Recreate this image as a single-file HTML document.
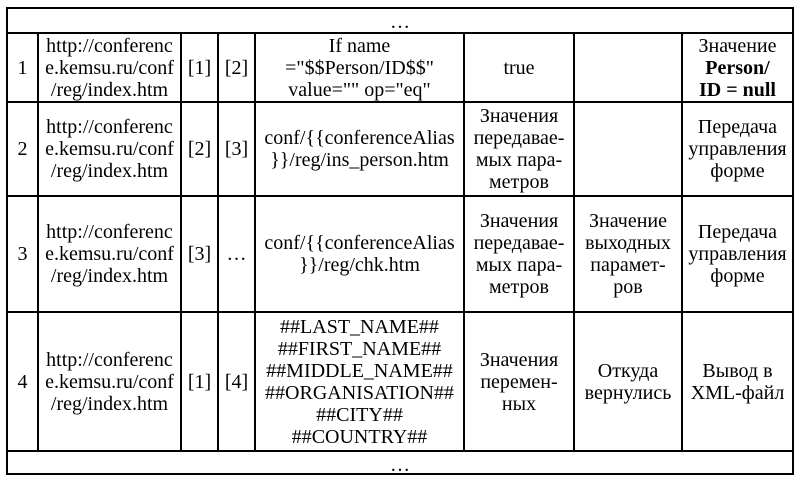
<!DOCTYPE html>
<html><head><meta charset="utf-8"><style>
html,body{margin:0;padding:0;background:#fff;width:803px;height:486px;overflow:hidden}
#t{position:relative;width:803px;height:486px;font-family:"Liberation Serif",serif;font-size:20px;color:#000}
.c{position:absolute;box-sizing:border-box;border:2px solid #000;display:flex;align-items:center;justify-content:center;text-align:center;line-height:22px;margin-left:-2px;margin-top:-2px;white-space:nowrap}
.top{align-items:flex-start;padding-top:2px}
</style></head><body>
<div id="t">
<script>
const xs=[8,39,182,219,256,465,575,683,794];
const ys=[9,34,103,197,313,452,475];
const rows=[
 ["1","http://conferenc<br>e.kemsu.ru/conf<br>/reg/index.htm","[1]","[2]","If name<br>=\"$$Person/ID$$\"<br>value=\"\" op=\"eq\"","true","","Значение<br><b>Person/<br>ID = null</b>"],
 ["2","http://conferenc<br>e.kemsu.ru/conf<br>/reg/index.htm","[2]","[3]","conf/{{conferenceAlias<br>}}/reg/ins_person.htm","Значения<br>передавае-<br>мых пара-<br>метров","","Передача<br>управления<br>форме"],
 ["3","http://conferenc<br>e.kemsu.ru/conf<br>/reg/index.htm","[3]","…","conf/{{conferenceAlias<br>}}/reg/chk.htm","Значения<br>передавае-<br>мых пара-<br>метров","Значение<br>выходных<br>парамет-<br>ров","Передача<br>управления<br>форме"],
 ["4","http://conferenc<br>e.kemsu.ru/conf<br>/reg/index.htm","[1]","[4]","##LAST_NAME##<br>##FIRST_NAME##<br>##MIDDLE_NAME##<br>##ORGANISATION##<br>##CITY##<br>##COUNTRY##","Значения<br>перемен-<br>ных","Откуда<br>вернулись","Вывод в<br>XML-файл"]
];
const t=document.getElementById('t');
function cell(x0,x1,y0,y1,html,name,top){
 const d=document.createElement('div');
 d.className='c'+(top?' top':'');
 d.style.left=x0+'px';d.style.top=y0+'px';
 d.style.width=(x1-x0+2)+'px';d.style.height=(y1-y0+2)+'px';
 const s=document.createElement('span');
 s.innerHTML=html;
 d.appendChild(s);
 
 
 t.appendChild(d);
}
cell(xs[0],xs[8],ys[0],ys[1],'…','ellipsis-row-top',true);
rows.forEach((r,i)=>{
 r.forEach((h,j)=>{
  cell(xs[j],xs[j+1],ys[i+1],ys[i+2],h,'cell-r'+(i+1)+'-c'+(j+1),false);
 });
});
cell(xs[0],xs[8],ys[5],ys[6],'…','ellipsis-row-bottom',true);
</script>
</div>
</body></html>
